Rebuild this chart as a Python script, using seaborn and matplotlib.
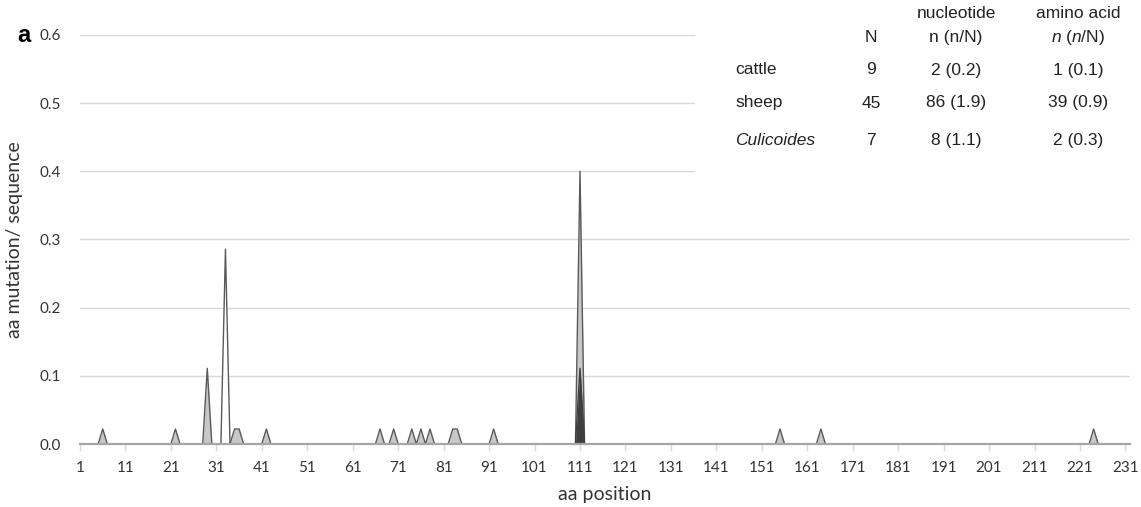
import numpy as np
import pandas as pd
import seaborn as sns
import matplotlib.pyplot as plt
from matplotlib.patches import Rectangle

# aa mutation / sequence, non-zero positions only (all others are 0)
sheep_pos = [6, 22, 29, 35, 36, 42, 67, 70, 74, 76, 78, 83, 84, 92, 111, 155, 164, 224]
sheep_val = [0.022, 0.022, 0.111, 0.022, 0.022, 0.022, 0.022, 0.022, 0.022,
             0.022, 0.022, 0.022, 0.022, 0.022, 0.4, 0.022, 0.022, 0.022]
cattle_pos = [111]
cattle_val = [0.111]
culi_pos = [33]
culi_val = [0.286]

x_ticks = list(range(1, 232, 10))
y_ticks = [0.0, 0.1, 0.2, 0.3, 0.4, 0.5, 0.6]

row_names = ['cattle', 'sheep', 'Culicoides']
row_N = ['9', '45', '7']
row_nt = ['2 (0.2)', '86 (1.9)', '8 (1.1)']
row_aa = ['1 (0.1)', '39 (0.9)', '2 (0.3)']

W, H = 1141, 507

positions = np.arange(1, 232)
df = pd.DataFrame({'pos': positions})
df['sheep'] = pd.Series(sheep_val, index=sheep_pos).reindex(positions, fill_value=0).values
df['cattle'] = pd.Series(cattle_val, index=cattle_pos).reindex(positions, fill_value=0).values
df['culicoides'] = pd.Series(culi_val, index=culi_pos).reindex(positions, fill_value=0).values

sns.set_style('white')
plt.rcParams['font.family'] = ['Lato', 'DejaVu Sans']
plt.rcParams['mathtext.fontset'] = 'custom'
plt.rcParams['mathtext.rm'] = 'Liberation Sans'
plt.rcParams['mathtext.it'] = 'Liberation Sans:italic'

fig = plt.figure(figsize=(W / 100, H / 100), dpi=100)
ax = fig.add_axes([80 / W, 63 / H, 1050 / W, 409 / H])

# series: fill + outline (sheep behind, cattle and Culicoides in front)
series = [
    ('sheep', '#c8c8c8', '#595959'),
    ('cattle', '#3f3f3f', '#3f3f3f'),
    ('culicoides', 'white', '#595959'),
]
for col, fill, edge in series:
    ax.fill_between(df['pos'], 0, df[col], color=fill, lw=0, zorder=1)
    sns.lineplot(data=df, x='pos', y=col, ax=ax, color=edge, lw=1, zorder=2)

ax.set_xlim(1, 232)
ax.set_ylim(0, 0.6)
ax.set_xticks(x_ticks)
ax.set_yticks(y_ticks)
ax.set_yticklabels([f'{v:.1f}' for v in y_ticks])
ax.set_axisbelow(True)
ax.yaxis.grid(True, color='#d9d9d9', lw=1)
ax.xaxis.grid(False)
for s in ['top', 'right', 'left']:
    ax.spines[s].set_visible(False)
ax.spines['bottom'].set_color('#a6a6a6')
ax.spines['bottom'].set_linewidth(1.6)
ax.spines['bottom'].set_zorder(3)
ax.tick_params(axis='y', length=0, pad=14, labelsize=11, labelcolor='#333333')
ax.tick_params(axis='x', length=5, width=1, color='#d9d9d9', direction='out',
               pad=7, labelsize=11, labelcolor='#333333', bottom=True)
ax.set_xlabel('aa position', fontsize=14, color='#333333', labelpad=8)
ax.set_ylabel('aa mutation/ sequence', fontsize=14, color='#333333', labelpad=12)

# white box behind the inset table
fig.patches.append(Rectangle((695 / W, 1 - 185 / H), (W - 695) / W, 185 / H,
                             transform=fig.transFigure, facecolor='white',
                             edgecolor='none', zorder=5))


def ftext(x, y, s, **kw):
    kw.setdefault('family', ['Liberation Sans', 'DejaVu Sans'])
    kw.setdefault('fontsize', 12.5)
    kw.setdefault('color', '#222222')
    fig.text(x / W, 1 - y / H, s, va='center', zorder=6, **kw)


ftext(17, 35, 'a', fontsize=17, fontweight='bold', color='black')

ftext(956, 14, 'nucleotide', ha='center')
ftext(1078, 14, 'amino acid', ha='center')
ftext(871, 38, 'N', ha='center')
ftext(956, 38, 'n (n/N)', ha='center')
ftext(1078, 38, r'$\mathit{n}$ ($\mathit{n}$/N)', ha='center')

row_y = [70, 103, 140]
for name, n, nt, aa, y in zip(row_names, row_N, row_nt, row_aa, row_y):
    ftext(735, y, name, ha='left', style='italic' if name == 'Culicoides' else 'normal')
    ftext(871, y, n, ha='center')
    ftext(956, y, nt, ha='center')
    ftext(1078, y, aa, ha='center')

fig.savefig('out.png', dpi=100)
